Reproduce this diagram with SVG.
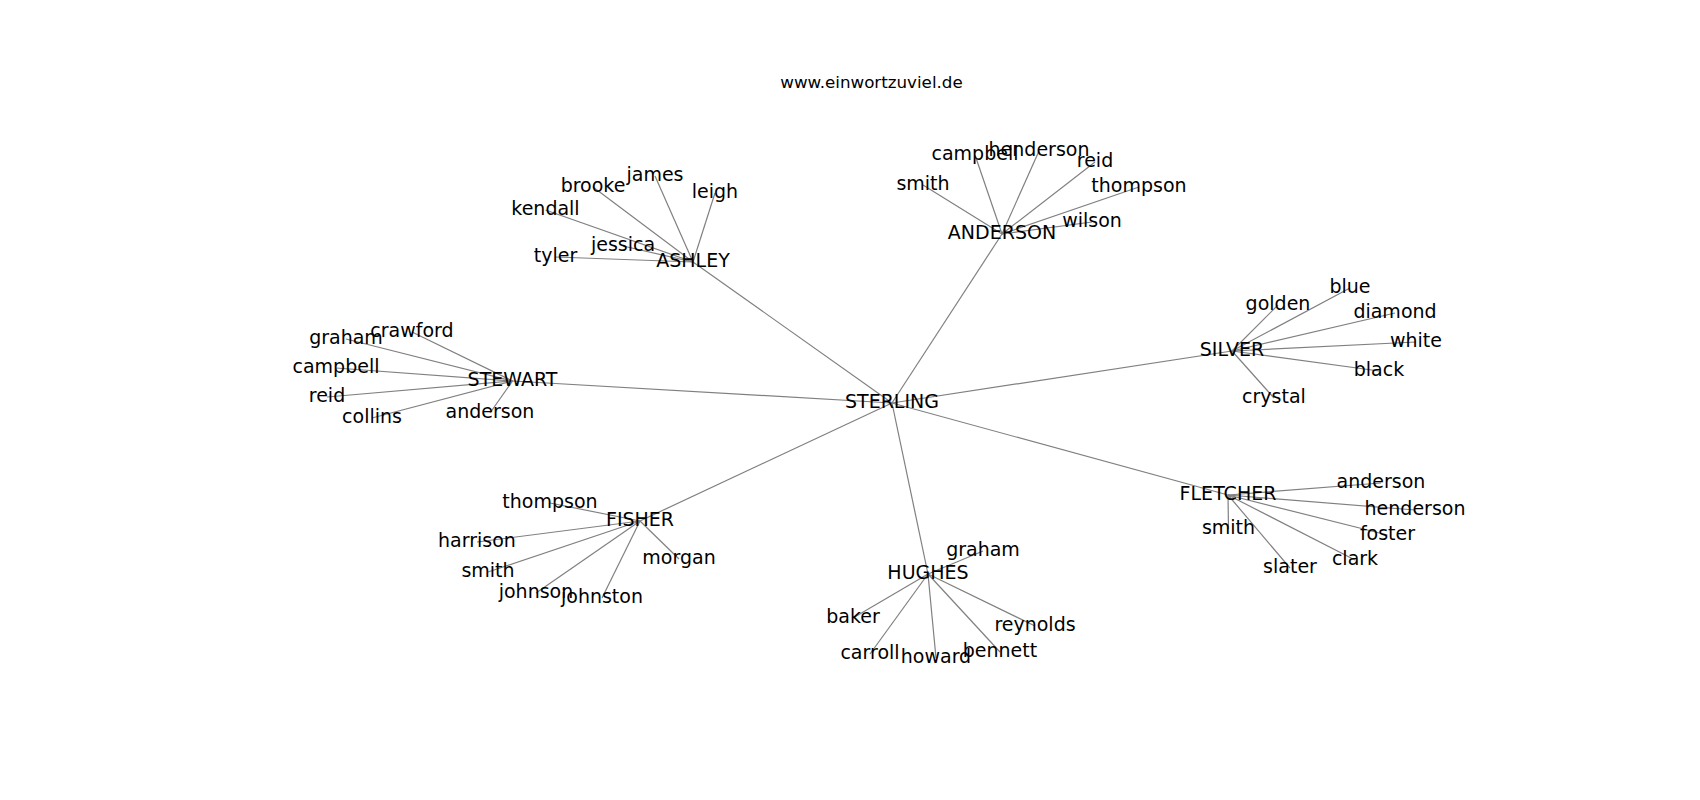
<svg xmlns="http://www.w3.org/2000/svg" width="1700" height="800" viewBox="0 0 1700 800">
<style>
.e{stroke:#808080;stroke-width:1.2;fill:none}
text{font-family:"DejaVu Sans","Liberation Sans",sans-serif;font-size:19px;fill:#000;text-anchor:middle}
.t{font-size:16.7px}
</style>
<rect width="1700" height="800" fill="#fff"/>
<text class="t" x="871.5" y="88">www.einwortzuviel.de</text>
<g id="edges">
<line class="e" x1="892" y1="403" x2="693" y2="262"/>
<line class="e" x1="892" y1="403" x2="1002" y2="234"/>
<line class="e" x1="892" y1="403" x2="1232" y2="351"/>
<line class="e" x1="892" y1="403" x2="1228" y2="495"/>
<line class="e" x1="892" y1="403" x2="928" y2="574"/>
<line class="e" x1="892" y1="403" x2="640" y2="521"/>
<line class="e" x1="892" y1="403" x2="512.5" y2="381"/>
<line class="e" x1="693" y1="262" x2="555.5" y2="257"/>
<line class="e" x1="693" y1="262" x2="623" y2="246"/>
<line class="e" x1="693" y1="262" x2="545.5" y2="210"/>
<line class="e" x1="693" y1="262" x2="593" y2="187"/>
<line class="e" x1="693" y1="262" x2="655" y2="176"/>
<line class="e" x1="693" y1="262" x2="715" y2="193"/>
<line class="e" x1="1002" y1="234" x2="923" y2="185"/>
<line class="e" x1="1002" y1="234" x2="975" y2="155"/>
<line class="e" x1="1002" y1="234" x2="1039" y2="151"/>
<line class="e" x1="1002" y1="234" x2="1095" y2="162"/>
<line class="e" x1="1002" y1="234" x2="1139" y2="187"/>
<line class="e" x1="1002" y1="234" x2="1092" y2="222"/>
<line class="e" x1="512.5" y1="381" x2="412" y2="332"/>
<line class="e" x1="512.5" y1="381" x2="346" y2="339"/>
<line class="e" x1="512.5" y1="381" x2="336" y2="368"/>
<line class="e" x1="512.5" y1="381" x2="327" y2="397"/>
<line class="e" x1="512.5" y1="381" x2="372" y2="418"/>
<line class="e" x1="512.5" y1="381" x2="490" y2="413"/>
<line class="e" x1="1232" y1="351" x2="1278" y2="305"/>
<line class="e" x1="1232" y1="351" x2="1350" y2="288"/>
<line class="e" x1="1232" y1="351" x2="1395" y2="313"/>
<line class="e" x1="1232" y1="351" x2="1416" y2="342"/>
<line class="e" x1="1232" y1="351" x2="1379" y2="371"/>
<line class="e" x1="1232" y1="351" x2="1274" y2="398"/>
<line class="e" x1="1228" y1="495" x2="1381" y2="483"/>
<line class="e" x1="1228" y1="495" x2="1415" y2="510"/>
<line class="e" x1="1228" y1="495" x2="1387.5" y2="535"/>
<line class="e" x1="1228" y1="495" x2="1355" y2="560"/>
<line class="e" x1="1228" y1="495" x2="1290" y2="568"/>
<line class="e" x1="1228" y1="495" x2="1228.5" y2="529"/>
<line class="e" x1="640" y1="521" x2="550" y2="503"/>
<line class="e" x1="640" y1="521" x2="477" y2="542"/>
<line class="e" x1="640" y1="521" x2="488" y2="572"/>
<line class="e" x1="640" y1="521" x2="536" y2="593"/>
<line class="e" x1="640" y1="521" x2="602" y2="598"/>
<line class="e" x1="640" y1="521" x2="679" y2="559"/>
<line class="e" x1="928" y1="574" x2="983" y2="551"/>
<line class="e" x1="928" y1="574" x2="853" y2="618"/>
<line class="e" x1="928" y1="574" x2="870" y2="654"/>
<line class="e" x1="928" y1="574" x2="936" y2="658"/>
<line class="e" x1="928" y1="574" x2="1000" y2="652"/>
<line class="e" x1="928" y1="574" x2="1035" y2="626"/>
</g>
<g id="STERLING"><text x="892" y="408">STERLING</text></g>
<g id="ASHLEY"><text x="693" y="267">ASHLEY</text></g>
<g id="ASHLEY-tyler"><text x="555.5" y="262">tyler</text></g>
<g id="ASHLEY-jessica"><text x="623" y="251">jessica</text></g>
<g id="ASHLEY-kendall"><text x="545.5" y="215">kendall</text></g>
<g id="ASHLEY-brooke"><text x="593" y="192">brooke</text></g>
<g id="ASHLEY-james"><text x="655" y="181">james</text></g>
<g id="ASHLEY-leigh"><text x="715" y="198">leigh</text></g>
<g id="ANDERSON"><text x="1002" y="239">ANDERSON</text></g>
<g id="ANDERSON-smith"><text x="923" y="190">smith</text></g>
<g id="ANDERSON-campbell"><text x="975" y="160">campbell</text></g>
<g id="ANDERSON-henderson"><text x="1039" y="156">henderson</text></g>
<g id="ANDERSON-reid"><text x="1095" y="167">reid</text></g>
<g id="ANDERSON-thompson"><text x="1139" y="192">thompson</text></g>
<g id="ANDERSON-wilson"><text x="1092" y="227">wilson</text></g>
<g id="STEWART"><text x="512.5" y="386">STEWART</text></g>
<g id="STEWART-crawford"><text x="412" y="337">crawford</text></g>
<g id="STEWART-graham"><text x="346" y="344">graham</text></g>
<g id="STEWART-campbell"><text x="336" y="373">campbell</text></g>
<g id="STEWART-reid"><text x="327" y="402">reid</text></g>
<g id="STEWART-collins"><text x="372" y="423">collins</text></g>
<g id="STEWART-anderson"><text x="490" y="418">anderson</text></g>
<g id="SILVER"><text x="1232" y="356">SILVER</text></g>
<g id="SILVER-golden"><text x="1278" y="310">golden</text></g>
<g id="SILVER-blue"><text x="1350" y="293">blue</text></g>
<g id="SILVER-diamond"><text x="1395" y="318">diamond</text></g>
<g id="SILVER-white"><text x="1416" y="347">white</text></g>
<g id="SILVER-black"><text x="1379" y="376">black</text></g>
<g id="SILVER-crystal"><text x="1274" y="403">crystal</text></g>
<g id="FLETCHER"><text x="1228" y="500">FLETCHER</text></g>
<g id="FLETCHER-anderson"><text x="1381" y="488">anderson</text></g>
<g id="FLETCHER-henderson"><text x="1415" y="515">henderson</text></g>
<g id="FLETCHER-foster"><text x="1387.5" y="540">foster</text></g>
<g id="FLETCHER-clark"><text x="1355" y="565">clark</text></g>
<g id="FLETCHER-slater"><text x="1290" y="573">slater</text></g>
<g id="FLETCHER-smith"><text x="1228.5" y="534">smith</text></g>
<g id="FISHER"><text x="640" y="526">FISHER</text></g>
<g id="FISHER-thompson"><text x="550" y="508">thompson</text></g>
<g id="FISHER-harrison"><text x="477" y="547">harrison</text></g>
<g id="FISHER-smith"><text x="488" y="577">smith</text></g>
<g id="FISHER-johnson"><text x="536" y="598">johnson</text></g>
<g id="FISHER-johnston"><text x="602" y="603">johnston</text></g>
<g id="FISHER-morgan"><text x="679" y="564">morgan</text></g>
<g id="HUGHES"><text x="928" y="579">HUGHES</text></g>
<g id="HUGHES-graham"><text x="983" y="556">graham</text></g>
<g id="HUGHES-baker"><text x="853" y="623">baker</text></g>
<g id="HUGHES-carroll"><text x="870" y="659">carroll</text></g>
<g id="HUGHES-howard"><text x="936" y="663">howard</text></g>
<g id="HUGHES-bennett"><text x="1000" y="657">bennett</text></g>
<g id="HUGHES-reynolds"><text x="1035" y="631">reynolds</text></g>
</svg>
